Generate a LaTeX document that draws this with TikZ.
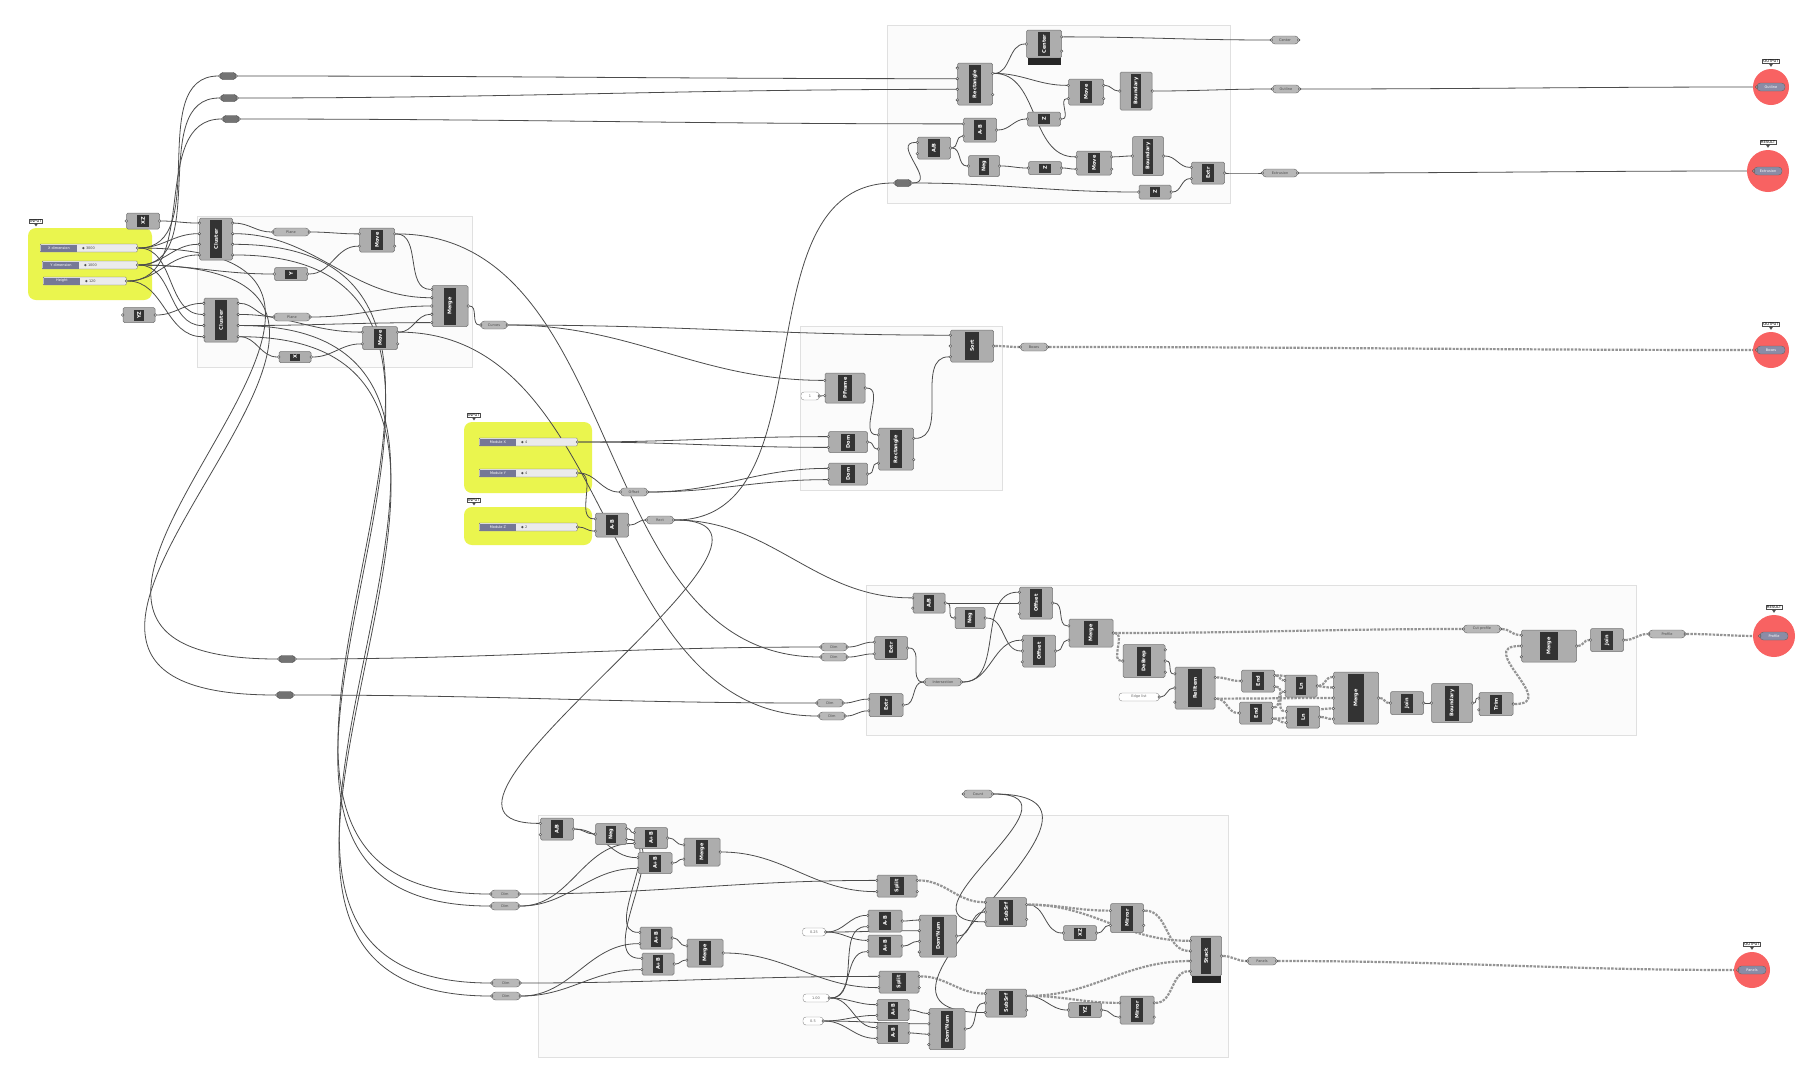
\documentclass[tikz,border=0pt]{standalone}
\usepackage{fontspec}
\setmainfont{DejaVu Sans}
\usetikzlibrary{calc}
\pgfdeclarelayer{bg}
\pgfdeclarelayer{wires}
\pgfsetlayers{bg,wires,main}

\definecolor{ghyellow}{RGB}{234,245,78}
\definecolor{ghred}{RGB}{248,98,98}
\definecolor{ghslide}{RGB}{118,120,150}

\tikzstyle{ghbox} = [draw=black!55, fill=black!32, rounded corners=1.5pt,
    inner sep=0pt, line width=0.5pt]
\tikzstyle{ghstrip} = [fill=black!80, text=white, inner sep=0pt,
    font=\fontsize{5}{5}\selectfont\bfseries]
\tikzstyle{port} = [circle, draw=black!75, fill=black!10, inner sep=0pt,
    minimum size=2.6pt, line width=0.4pt]
\tikzstyle{ghparam} = [draw=black!60, fill=black!28, rounded corners=3.5pt, inner sep=0pt,
    minimum height=8pt, font=\fontsize{3.5}{4}\selectfont, text=black!70]
\tikzstyle{relay} = [draw=black!75, fill=black!55, rounded corners=3pt, inner sep=0pt,
    minimum width=16pt, minimum height=7pt]
\tikzstyle{panel} = [draw=black!45, fill=white, rounded corners=3pt, inner sep=0pt,
    minimum height=8pt, font=\fontsize{3.5}{4}\selectfont, text=black!60]
\tikzstyle{slidebox} = [draw=black!55, fill=black!8, inner sep=0pt,
    minimum height=8pt, rounded corners=0.8pt]
\tikzstyle{slidelabel} = [fill=ghslide, inner sep=0pt, minimum height=7pt,
    minimum width=36pt, font=\fontsize{3.5}{4}\selectfont, text=white]
\tikzstyle{tag} = [draw=black!70, fill=white, inner sep=0.8pt,
    font=\fontsize{3.8}{4}\selectfont]
\tikzstyle{wire} = [draw=black!70, line width=0.8pt]
\tikzstyle{tree} = [draw=black!42, line width=2.2pt, dash pattern=on 2.5pt off 1.2pt]
\tikzstyle{group} = [draw=black!12, fill=black!1.5, line width=0.6pt]
\tikzstyle{foot} = [fill=black!85, inner sep=0pt, minimum height=7pt, anchor=north]

\newcommand{\ghc}[8]{%
  \node[ghbox, minimum width=#4, minimum height=#5] (#1) at (#2,#3) {};
  \node[ghstrip, minimum width=#5-4, minimum height=0.34*#4, rotate=90] at (#1.center) {#6};
  \foreach \k in {1,...,#7}
    \node[port] (#1-i\k) at ($(#1.north west)!{(\k-0.5)/#7}!(#1.south west)$) {};
  \foreach \k in {1,...,#8}
    \node[port] (#1-o\k) at ($(#1.north east)!{(\k-0.5)/#8}!(#1.south east)$) {};
}
\newcommand{\ghp}[5]{%
  \node[ghparam, minimum width=#4] (#1) at (#2,#3) {#5};
  \node[port] (#1-i1) at (#1.west) {};
  \node[port] (#1-o1) at (#1.east) {};
}
\newcommand{\ghr}[3]{%
  \node[relay] (#1) at (#2,#3) {};
  \node[port] (#1-i1) at (#1.west) {};
  \node[port] (#1-o1) at (#1.east) {};
}
\newcommand{\ghpan}[5]{%
  \node[panel, minimum width=#4] (#1) at (#2,#3) {#5};
  \node[port] (#1-o1) at (#1.east) {};
}
\newcommand{\ghslider}[6]{%
  \node[slidebox, minimum width=#3-#2, anchor=west] (#1) at (#2,#4) {};
  \node[slidelabel, anchor=west] at ([xshift=0.8pt]#1.west) {#5};
  \node[font=\fontsize{3.5}{4}\selectfont, text=black!70, anchor=west, inner sep=0pt]
    at ([xshift=42pt]#1.west) {#6};
  \node[port] (#1-o1) at (#1.east) {};
}
\newcommand{\ghtag}[4]{%
  \node[tag] (#1) at (#2,#3) {#4};
  \fill[black!70] ([xshift=-2pt]#1.south) -- ([xshift=2pt]#1.south) -- ([yshift=-3pt]#1.south) -- cycle;
}
\newcommand{\ghout}[6]{%
  \node[circle, fill=ghred, inner sep=0pt, minimum size=2*#4] (#1) at (#2,#3) {};
  \node[ghparam, fill=ghslide!85, text=white, minimum width=28] (#1-p) at (#1) {#6};
  \node[port] (#1-i1) at (#1-p.west) {};
  \node[tag, anchor=south] (#1-t) at ([yshift=5pt]#1.north) {#5};
  \fill[black!70] ([xshift=-2pt]#1-t.south) -- ([xshift=2pt]#1-t.south) -- ([yshift=-3pt]#1-t.south) -- cycle;
}

\begin{document}
\begin{tikzpicture}[x=1pt, y=-1pt, every to/.style={out=0, in=180}]
\useasboundingbox (0,0) rectangle (1813,1080);

\begin{pgfonlayer}{bg}
\fill[white] (0,0) rectangle (1813,1080);
\draw[group] (197,216) rectangle (472,367);
\draw[group] (887,25) rectangle (1230,203);
\draw[group] (800,326) rectangle (1002,490);
\draw[group] (866,585) rectangle (1636,735);
\draw[group] (538,815) rectangle (1228,1057);
\fill[ghyellow, rounded corners=8pt] (28,228) rectangle (152,300);
\fill[ghyellow, rounded corners=8pt] (464,422) rectangle (592,493);
\fill[ghyellow, rounded corners=8pt] (464,507) rectangle (592,545);
\end{pgfonlayer}

% inputs and clusters
\ghtag{tagA}{36}{221}{INPUT}
\ghslider{sX}{40}{137}{248}{X dimension}{◆ 3000}
\ghslider{sY}{42}{137}{265}{Y dimension}{◆ 1000}
\ghslider{sH}{43}{126}{281}{Height}{◆ 120}
\ghc{xz}{143}{221}{33}{16}{XZ}{1}{1}
\ghc{clA}{216}{239}{33}{42}{Cluster}{4}{4}
\ghp{plA}{291}{232}{36}{Plane}
\ghc{mvA}{377}{240}{35}{24}{Move}{2}{2}
\ghc{vY}{291}{274}{33}{13}{Y}{1}{1}
\ghc{mgA}{450}{306}{36}{41}{Merge}{5}{1}
\ghc{yz}{139}{315}{32}{15}{YZ}{1}{1}
\ghc{clB}{221}{320}{34}{44}{Cluster}{4}{4}
\ghp{plB}{292}{317}{36}{Plane}
\ghc{mvB}{380}{338}{35}{23}{Move}{2}{2}
\ghc{vX}{295}{357}{32}{11}{X}{1}{1}
\ghp{crv}{494}{325}{26}{Curves}
\ghr{rlA}{228}{76}
\ghr{rlB}{229}{98}
\ghr{rlC}{231}{119}
\ghr{rlD}{903}{183}
\ghr{rlE}{287}{659}
\ghr{rlF}{285}{695}

% outline and extrusion
\ghc{ctr}{1044}{44}{35}{28}{Center}{1}{2}
\node[foot, minimum width=33] (ctr-f) at (ctr.south) {};
\ghc{rcB}{975}{84}{35}{42}{Rectangle}{4}{2}
\ghc{mvC}{1086}{92}{35}{26}{Move}{2}{2}
\ghc{bdA}{1136}{91}{32}{38}{Boundary}{1}{1}
\ghc{abA}{980}{130}{33}{24}{A-B}{2}{1}
\ghc{zA}{1044}{119}{33}{14}{Z}{1}{1}
\ghc{dvA}{934}{148}{33}{22}{A/B}{2}{1}
\ghc{ngA}{984}{166}{31}{21}{Neg}{1}{1}
\ghc{zB}{1045}{168}{33}{13}{Z}{1}{1}
\ghc{mvD}{1094}{163}{35}{24}{Move}{2}{2}
\ghc{bdB}{1148}{156}{31}{39}{Boundary}{1}{1}
\ghc{exA}{1208}{173}{33}{22}{Extr}{2}{1}
\ghc{zC}{1155}{192}{32}{14}{Z}{1}{1}
\ghp{cpC}{1285}{40}{27}{Center}
\ghp{cpB}{1286}{89}{27}{Outline}
\ghp{cpE}{1280}{173}{35}{Extrusion}
\ghout{o1}{1771}{87}{18}{OUTPUT}{Outline}
\ghout{o2}{1768}{171}{21}{RESULT}{Extrusion}

% boxes
\ghc{srt}{972}{346}{43}{32}{Sort}{3}{1}
\ghp{cpS}{1034}{347}{27}{Boxes}
\ghout{o3}{1771}{350}{18}{OUTPUT}{Boxes}
\ghc{pfr}{845}{388}{40}{30}{PFrame}{2}{1}
\ghpan{one}{810}{396}{18}{1}
\ghc{dmA}{848}{442}{39}{21}{Dom}{2}{1}
\ghc{dmB}{848}{474}{39}{22}{Dom}{2}{1}
\ghc{rcC}{896}{449}{35}{42}{Rectangle}{3}{2}
\ghtag{tagB}{474}{415}{INPUT}
\ghslider{sMX}{479}{577}{442}{Module X}{◆ 4}
\ghslider{sMY}{479}{577}{473}{Module Y}{◆ 4}
\ghtag{tagC}{474}{500}{INPUT}
\ghslider{sMZ}{479}{577}{527}{Module Z}{◆ 2}
\ghp{cpO}{634}{492}{27}{Offset}
\ghc{abC}{612}{525}{33}{24}{A-B}{2}{1}
\ghp{cpR}{660}{520}{27}{Rect}

% profile
\ghp{cD1}{834}{647}{26}{Dim}
\ghp{cD2}{834}{657}{26}{Dim}
\ghp{cD3}{830}{703}{26}{Dim}
\ghp{cD4}{832}{716}{26}{Dim}
\ghc{dvD}{929}{603}{32}{20}{A/B}{2}{1}
\ghc{ngD}{970}{618}{30}{21}{Neg}{1}{1}
\ghc{ofA}{1036}{603}{33}{32}{Offset}{3}{1}
\ghc{ofB}{1039}{651}{33}{32}{Offset}{3}{1}
\ghc{mgD}{1091}{633}{44}{28}{Merge}{2}{1}
\ghc{exD}{891}{648}{33}{23}{Extr}{2}{1}
\ghc{exE}{886}{705}{34}{23}{Extr}{2}{1}
\ghp{cpI}{943}{682}{37}{Intersection}
\ghc{dbr}{1144}{661}{42}{33}{DeBrep}{1}{3}
\ghpan{lst}{1139}{697}{40}{Edge list}
\ghc{rit}{1195}{688}{40}{42}{RelItem}{3}{2}
\ghc{enA}{1258}{681}{33}{22}{End}{1}{2}
\ghc{enB}{1256}{713}{33}{22}{End}{1}{2}
\ghc{lnA}{1301}{686}{32}{22}{Ln}{2}{1}
\ghc{lnB}{1303}{717}{33}{22}{Ln}{2}{1}
\ghc{mgE}{1356}{698}{45}{52}{Merge}{5}{1}
\ghc{jnA}{1407}{703}{33}{23}{Join}{1}{1}
\ghc{bdC}{1452}{703}{41}{39}{Boundary}{1}{1}
\ghc{trm}{1496}{704}{34}{23}{Trim}{2}{1}
\ghp{cpT}{1482}{629}{37}{Cut profile}
\ghc{mgF}{1549}{646}{55}{32}{Merge}{3}{1}
\ghc{jnB}{1607}{640}{33}{23}{Join}{1}{1}
\ghp{cpP}{1667}{634}{36}{Profile}
\ghout{o4}{1774}{636}{21}{RESULT}{Profile}

% panels
\ghp{cE1}{505}{894}{28}{Dim}
\ghp{cE2}{505}{906}{28}{Dim}
\ghp{cE3}{506}{983}{28}{Dim}
\ghp{cE4}{506}{996}{28}{Dim}
\ghc{dvE}{557}{829}{33}{22}{A/B}{2}{1}
\ghc{ngE}{611}{834}{31}{21}{Neg}{1}{2}
\ghc{pbA}{651}{838}{33}{21}{A+B}{2}{1}
\ghc{pbB}{655}{863}{34}{21}{A+B}{2}{1}
\ghc{mgG}{702}{852}{36}{28}{Merge}{2}{1}
\ghc{spA}{897}{886}{40}{22}{Split}{2}{2}
\ghc{pbC}{656}{938}{32}{22}{A+B}{2}{1}
\ghc{pbD}{658}{964}{32}{22}{A+B}{2}{1}
\ghc{mgH}{705}{953}{36}{28}{Merge}{2}{1}
\ghc{spB}{899}{982}{40}{22}{Split}{2}{2}
\ghpan{pnA}{814}{932}{23}{0.25}
\ghc{abE}{885}{921}{34}{22}{A-B}{2}{1}
\ghc{pbE}{885}{946}{34}{22}{A+B}{2}{1}
\ghc{dnA}{938}{936}{37}{42}{Dom²Num}{4}{1}
\ghc{ssA}{1006}{912}{41}{29}{SubSrf}{3}{2}
\ghpan{pnB}{816}{998}{26}{1.00}
\ghpan{pnC}{813}{1021}{20}{0.5}
\ghc{pbF}{893}{1010}{32}{21}{A+B}{2}{1}
\ghc{abF}{893}{1033}{32}{21}{A-B}{2}{1}
\ghc{dnB}{947}{1029}{36}{41}{Dom²Num}{4}{1}
\ghc{ssB}{1006}{1003}{41}{28}{SubSrf}{3}{2}
\ghp{cpU}{978}{794}{29}{Count}
\ghc{xzE}{1080}{933}{33}{15}{XZ}{1}{1}
\ghc{mrA}{1127}{918}{33}{29}{Mirror}{2}{2}
\ghc{stk}{1206}{956}{31}{40}{Stack}{4}{1}
\node[foot, minimum width=29] (stk-f) at (stk.south) {};
\ghc{yzE}{1085}{1010}{33}{15}{YZ}{1}{1}
\ghc{mrB}{1137}{1010}{34}{28}{Mirror}{2}{2}
\ghp{cpN}{1262}{961}{29}{Panels}
\ghout{o5}{1752}{970}{18}{OUTPUT}{Panels}

\begin{pgfonlayer}{wires}
\draw[wire] (sX-o1) to (rlA-i1);
\draw[wire] (sY-o1) to (rlB-i1);
\draw[wire] (sH-o1) to (rlC-i1);
\draw[wire] (xz-o1) to (clA-i1);
\draw[wire] (sX-o1) to (clA-i2);
\draw[wire] (sY-o1) to (clA-i3);
\draw[wire] (sH-o1) to (clA-i4);
\draw[wire] (yz-o1) to (clB-i1);
\draw[wire] (sX-o1) to (clB-i2);
\draw[wire] (sY-o1) to (clB-i3);
\draw[wire] (sH-o1) to (clB-i4);
\draw[wire] (sY-o1) to (vY-i1);
\draw[wire] (clA-o1) to (plA-i1);
\draw[wire] (plA-o1) to (mvA-i1);
\draw[wire] (vY-o1) to (mvA-i2);
\draw[wire] (mvA-o1) to (mgA-i1);
\draw[wire] (clA-o2) to (mgA-i2);
\draw[wire] (clB-o1) to (plB-i1);
\draw[wire] (plB-o1) to (mgA-i3);
\draw[wire] (clB-o2) to (mvB-i1);
\draw[wire] (clB-o4) to (vX-i1);
\draw[wire] (vX-o1) to (mvB-i2);
\draw[wire] (mvB-o1) to (mgA-i4);
\draw[wire] (clB-o3) to (mgA-i5);
\draw[wire] (mgA-o1) to (crv-i1);
\draw[wire] (rlA-o1) to (rcB-i2);
\draw[wire] (rlB-o1) to (rcB-i3);
\draw[wire] (rlC-o1) to (abA-i1);
\draw[wire] (sX-o1) to[looseness=2.2] (rlE-i1);
\draw[wire] (sY-o1) to[looseness=2.2] (rlF-i1);
\draw[wire] (rlE-o1) to (cD1-i1);
\draw[wire] (rlF-o1) to (cD3-i1);
\draw[wire] (mvA-o1) to (cD2-i1);
\draw[wire] (mvB-o1) to (cD4-i1);
\draw[wire] (clA-o3) to[looseness=1.4] (cE1-i1);
\draw[wire] (clA-o4) to[looseness=1.4] (cE2-i1);
\draw[wire] (clB-o3) to[looseness=1.4] (cE3-i1);
\draw[wire] (clB-o4) to[looseness=1.4] (cE4-i1);

\draw[wire] (sMY-o1) to (cpO-i1);
\draw[wire] (sMY-o1) to (abC-i1);
\draw[wire] (sMZ-o1) to (abC-i2);
\draw[wire] (sMX-o1) to (dmA-i1);
\draw[wire] (sMX-o1) to (dmA-i2);
\draw[wire] (cpO-o1) to (dmB-i1);
\draw[wire] (cpO-o1) to (dmB-i2);
\draw[wire] (abC-o1) to (cpR-i1);
\draw[wire] (cpR-o1) to (rlD-i1);
\draw[wire] (cpR-o1) to (dvD-i1);
\draw[wire] (cpR-o1) to[looseness=1.3] (dvE-i1);
\draw[wire] (crv-o1) to (srt-i1);
\draw[wire] (crv-o1) to (pfr-i1);
\draw[wire] (one-o1) to (pfr-i2);
\draw[wire] (pfr-o1) to (rcC-i1);
\draw[wire] (dmA-o1) to (rcC-i2);
\draw[wire] (dmB-o1) to (rcC-i3);
\draw[wire] (rcC-o1) to (srt-i3);
\draw[tree] (srt-o1) to (cpS-i1);
\draw[tree] (cpS-o1) to (o3-i1);

\draw[wire] (rcB-o1) to (ctr-i1);
\draw[wire] (rcB-o1) to (mvC-i1);
\draw[wire] (rcB-o1) to (mvD-i1);
\draw[wire] (abA-o1) to (zA-i1);
\draw[wire] (zA-o1) to (mvC-i2);
\draw[wire] (rlD-o1) to[looseness=1.6] (dvA-i1);
\draw[wire] (dvA-o1) to (abA-i2);
\draw[wire] (dvA-o1) to (ngA-i1);
\draw[wire] (ngA-o1) to (zB-i1);
\draw[wire] (zB-o1) to (mvD-i2);
\draw[wire] (mvC-o1) to (bdA-i1);
\draw[wire] (mvD-o1) to (bdB-i1);
\draw[wire] (bdB-o1) to (exA-i1);
\draw[wire] (rlD-o1) to (zC-i1);
\draw[wire] (zC-o1) to (exA-i2);
\draw[wire] (ctr-o1) to (cpC-i1);
\draw[wire] (bdA-o1) to (cpB-i1);
\draw[wire] (exA-o1) to (cpE-i1);
\draw[wire] (cpB-o1) to (o1-i1);
\draw[wire] (cpE-o1) to (o2-i1);

\draw[wire] (cD1-o1) to (exD-i1);
\draw[wire] (cD2-o1) to (exD-i2);
\draw[wire] (cD3-o1) to (exE-i1);
\draw[wire] (cD4-o1) to (exE-i2);
\draw[wire] (exD-o1) to (cpI-i1);
\draw[wire] (exE-o1) to (cpI-i1);
\draw[wire] (cpI-o1) to (ofA-i1);
\draw[wire] (cpI-o1) to (ofB-i1);
\draw[wire] (dvD-o1) to (ofA-i2);
\draw[wire] (dvD-o1) to (ngD-i1);
\draw[wire] (ngD-o1) to (ofB-i2);
\draw[wire] (ofA-o1) to (mgD-i1);
\draw[wire] (ofB-o1) to (mgD-i2);
\draw[tree] (mgD-o1) to (cpT-i1);
\draw[tree] (mgD-o1) to (dbr-i1);
\draw[wire] (dbr-o2) to (rit-i1);
\draw[wire] (lst-o1) to (rit-i2);
\draw[tree] (rit-o1) to (enA-i1);
\draw[tree] (rit-o2) to (enB-i1);
\draw[tree] (rit-o2) to (mgE-i3);
\draw[tree] (enA-o1) to (lnA-i1);
\draw[tree] (enB-o1) to (lnA-i2);
\draw[tree] (enA-o2) to (lnB-i1);
\draw[tree] (enB-o2) to (lnB-i2);
\draw[tree] (lnA-o1) to (mgE-i1);
\draw[tree] (enA-o1) to (mgE-i2);
\draw[tree] (enB-o2) to (mgE-i4);
\draw[tree] (lnB-o1) to (mgE-i5);
\draw[tree] (mgE-o1) to (jnA-i1);
\draw[wire] (jnA-o1) to (bdC-i1);
\draw[wire] (bdC-o1) to (trm-i1);
\draw[tree] (trm-o1) to[looseness=2] (mgF-i2);
\draw[tree] (cpT-o1) to (mgF-i1);
\draw[tree] (mgF-o1) to (jnB-i1);
\draw[tree] (jnB-o1) to (cpP-i1);
\draw[tree] (cpP-o1) to (o4-i1);

\draw[wire] (dvE-o1) to (ngE-i1);
\draw[wire] (dvE-o1) to (pbB-i1);
\draw[wire] (ngE-o1) to (pbA-i1);
\draw[wire] (ngE-o2) to (pbC-i1);
\draw[wire] (ngE-o2) to (pbD-i1);
\draw[wire] (cE1-o1) to (spA-i1);
\draw[wire] (cE2-o1) to (pbA-i2);
\draw[wire] (cE2-o1) to (pbB-i2);
\draw[wire] (cE3-o1) to (spB-i1);
\draw[wire] (cE4-o1) to (pbC-i2);
\draw[wire] (cE4-o1) to (pbD-i2);
\draw[wire] (pbA-o1) to (mgG-i1);
\draw[wire] (pbB-o1) to (mgG-i2);
\draw[wire] (pbC-o1) to (mgH-i1);
\draw[wire] (pbD-o1) to (mgH-i2);
\draw[wire] (mgG-o1) to (spA-i2);
\draw[wire] (mgH-o1) to (spB-i2);
\draw[wire] (pnA-o1) to (abE-i1);
\draw[wire] (pnA-o1) to (pbE-i1);
\draw[wire] (pnA-o1) to (dnA-i2);
\draw[wire] (pnB-o1) to (abE-i2);
\draw[wire] (pnB-o1) to (pbE-i2);
\draw[wire] (abE-o1) to (dnA-i1);
\draw[wire] (pbE-o1) to (dnA-i3);
\draw[wire] (pnB-o1) to (pbF-i1);
\draw[wire] (pnB-o1) to (abF-i1);
\draw[wire] (pnC-o1) to (pbF-i2);
\draw[wire] (pnC-o1) to (abF-i2);
\draw[wire] (pnC-o1) to (dnB-i2);
\draw[wire] (pbF-o1) to (dnB-i1);
\draw[wire] (abF-o1) to (dnB-i3);
\draw[wire] (dnA-o1) to (ssA-i2);
\draw[wire] (dnB-o1) to (ssB-i2);
\draw[tree] (spA-o1) to (ssA-i1);
\draw[tree] (spB-o1) to (ssB-i1);
\draw[wire] (cpU-o1) to[looseness=2] (ssA-i3);
\draw[wire] (cpU-o1) to[looseness=2] (ssB-i3);
\draw[tree] (ssA-o1) to (mrA-i1);
\draw[wire] (ssA-o1) to (xzE-i1);
\draw[wire] (xzE-o1) to (mrA-i2);
\draw[tree] (ssA-o1) to (stk-i1);
\draw[tree] (mrA-o1) to (stk-i2);
\draw[tree] (ssB-o1) to (stk-i3);
\draw[wire] (ssB-o1) to (yzE-i1);
\draw[wire] (yzE-o1) to (mrB-i2);
\draw[tree] (ssB-o1) to (mrB-i1);
\draw[tree] (mrB-o1) to (stk-i4);
\draw[tree] (stk-o1) to (cpN-i1);
\draw[tree] (cpN-o1) to (o5-i1);
\end{pgfonlayer}
\end{tikzpicture}
\end{document}
